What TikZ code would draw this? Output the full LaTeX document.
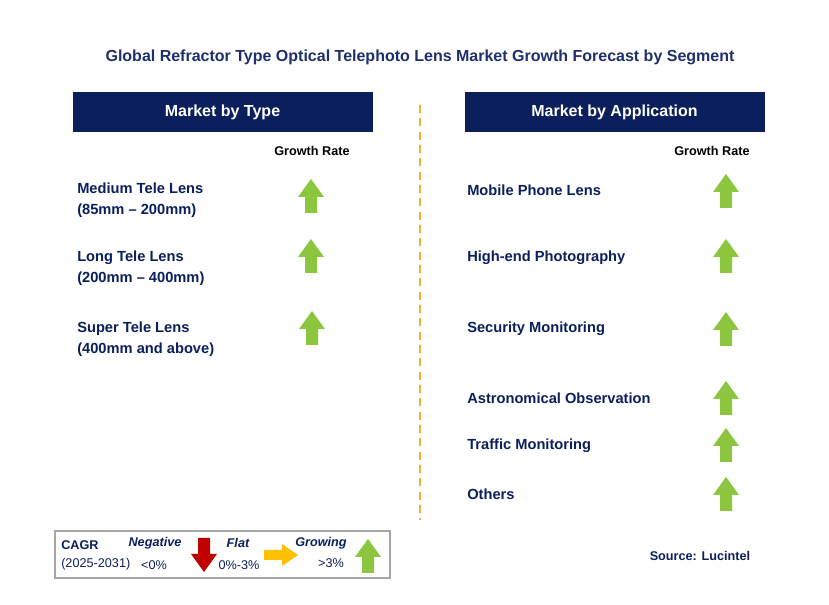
\documentclass[tikz,border=0pt]{standalone}
\usepackage{fontspec}
\setmainfont{Liberation Sans}
\definecolor{navy}{HTML}{0B1F5C}
\definecolor{ttl}{HTML}{1F2F6B}
\definecolor{grn}{HTML}{8CC63F}
\definecolor{rd}{HTML}{C00000}
\definecolor{yl}{HTML}{FFC000}
\definecolor{org}{HTML}{F2B233}
\begin{document}
\begin{tikzpicture}[x=0.75pt,y=-0.75pt,
 hdr/.style={fill=navy,text=white,font=\bfseries\fontsize{12}{14}\selectfont,minimum width=225pt,minimum height=30pt,inner sep=0},
 item/.style={anchor=west,align=left,font=\bfseries\fontsize{11}{15.5}\selectfont,text=navy,inner sep=0},
 gr/.style={font=\bfseries\fontsize{9.5}{11}\selectfont,inner sep=0},
 up/.pic={\fill[grn] (-6,17)--(-6,1)--(-13,1)--(0,-17)--(13,1)--(6,1)--(6,17)--cycle;},
 dn/.pic={\fill[rd] (-6,-17)--(-6,-1)--(-13,-1)--(0,17)--(13,-1)--(6,-1)--(6,-17)--cycle;},
 rt/.pic={\fill[yl] (-16,-5)--(2,-5)--(2,-11)--(18,0)--(2,11)--(2,5)--(-16,5)--cycle;}]
\useasboundingbox (0,0) rectangle (829,605);
\node[font=\bfseries\fontsize{12}{14}\selectfont,text=ttl] (title) at (420,57) {Global Refractor Type Optical Telephoto Lens Market Growth Forecast by Segment};
\node[hdr] (h1) at (222.5,112) {Market by Type};
\node[hdr] (h2) at (614.5,112) {Market by Application};
\draw[org,line width=1.2pt,dash pattern=on 6pt off 4pt] (420,105)--(420,520);
\node[gr] (g1) at (312,151) {Growth Rate};
\node[gr] (g2) at (712,151) {Growth Rate};
\node[item] (l1) at (77,200) {Medium Tele Lens\\(85mm – 200mm)};
\node[item] (l2) at (77,268) {Long Tele Lens\\(200mm – 400mm)};
\node[item] (l3) at (77,339) {Super Tele Lens\\(400mm and above)};
\pic at (311,196) {up}; \pic at (311,256) {up}; \pic at (312,328) {up};
\foreach \t/\y in {Mobile Phone Lens/190,High-end Photography/258,Security Monitoring/329,Astronomical Observation/398,Traffic Monitoring/446,Others/494}
 \node[item] at (467,\y) {\t};
\foreach \y in {191,256,329,398,445,494} \pic at (726,\y) {up};
\draw[gray!70,line width=0.8pt] (55,531) rectangle (390,578);
\node[item,font=\bfseries\fontsize{9.5}{11}\selectfont] (c1) at (61,545) {CAGR};
\node[item,font=\fontsize{9.5}{11}\selectfont] (c2) at (61,564) {(2025-2031)};
\node[font=\bfseries\itshape\fontsize{9.5}{11}\selectfont,text=navy] (n1) at (155,543) {Negative};
\node[font=\fontsize{9.5}{11}\selectfont,text=navy] (n2) at (154,565) {<0\%};
\pic at (204,555) {dn};
\node[font=\bfseries\itshape\fontsize{9.5}{11}\selectfont,text=navy] (f1) at (238,543) {Flat};
\node[font=\fontsize{9.5}{11}\selectfont,text=navy] (f2) at (239,565) {0\%-3\%};
\pic at (280,555) {rt};
\node[font=\bfseries\itshape\fontsize{9.5}{11}\selectfont,text=navy] (r1) at (321,543) {Growing};
\node[font=\fontsize{9.5}{11}\selectfont,text=navy] (r2) at (331,563) {>3\%};
\pic at (368,556) {up};
\node[font=\bfseries\fontsize{9.5}{11}\selectfont,text=navy] (src) at (700,556) {Source: Lucintel};
\end{tikzpicture}
\end{document}
